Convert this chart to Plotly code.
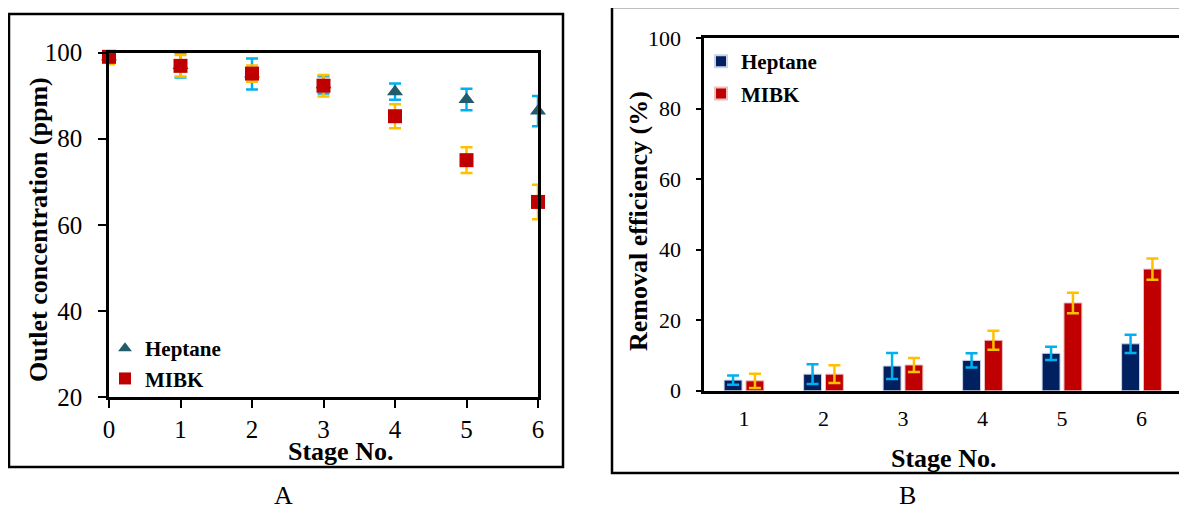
import plotly.graph_objects as go

# The page body adds an 8 px offset; the figure is sized so the page matches 1187x510.
OFF = 8
W, H = 1187 - OFF, 510 - OFF

# ---- Panel A data: outlet concentration (ppm) ----
stages_a = [0, 1, 2, 3, 4, 5, 6]
heptane_conc = [99.0, 97.0, 95.0, 92.5, 90.9, 89.1, 86.4]
heptane_conc_err = [1.0, 2.8, 3.6, 2.0, 1.9, 2.5, 3.5]
mibk_conc = [99.0, 96.9, 95.1, 92.3, 85.2, 75.0, 65.3]
mibk_conc_err = [1.7, 2.5, 1.9, 2.5, 2.8, 3.0, 4.0]
ticks_a_x = [0, 1, 2, 3, 4, 5, 6]
ticks_a_y = [20, 40, 60, 80, 100]

# ---- Panel B data: removal efficiency (%) ----
stages_b = [1, 2, 3, 4, 5, 6]
heptane_eff = [3.0, 4.7, 7.0, 8.6, 10.6, 13.3]
heptane_eff_err = [1.3, 2.8, 3.7, 2.0, 1.9, 2.6]
mibk_eff = [2.8, 4.7, 7.3, 14.3, 24.9, 34.5]
mibk_eff_err = [2.0, 2.5, 2.0, 2.7, 2.9, 3.0]
ticks_b_y = [0, 20, 40, 60, 80, 100]

SERIF = "Liberation Serif, Times New Roman, serif"
TEAL = "#225B6B"
NAVY = "#002060"
RED = "#C00000"
CYAN = "#00B0F0"
GOLD = "#FFC000"


def px_x(v):
    return (v - OFF) / W


def px_y(v):
    return 1 - (v - OFF) / H


fig = go.Figure()

# Panel A traces
fig.add_trace(go.Scatter(
    x=stages_a, y=heptane_conc, name="Heptane", mode="markers",
    marker=dict(symbol="triangle-up", size=14, color=TEAL),
    error_y=dict(type="data", array=heptane_conc_err, color=CYAN, thickness=2.5, width=6),
    xaxis="x", yaxis="y", cliponaxis=False, legend="legend", legendgroup="a1"))
fig.add_trace(go.Scatter(
    x=stages_a, y=mibk_conc, name="MIBK", mode="markers",
    marker=dict(symbol="square", size=14, color=RED),
    error_y=dict(type="data", array=mibk_conc_err, color=GOLD, thickness=2.5, width=6),
    xaxis="x", yaxis="y", cliponaxis=False, legend="legend", legendgroup="a2"))

# Panel B traces
fig.add_trace(go.Bar(
    x=stages_b, y=heptane_eff, name="Heptane", marker=dict(color=NAVY, line=dict(color="#C9D3E6", width=1)),
    error_y=dict(type="data", array=heptane_eff_err, color=CYAN, thickness=2.5, width=6),
    xaxis="x2", yaxis="y2", legend="legend2", legendgroup="b1"))
fig.add_trace(go.Bar(
    x=stages_b, y=mibk_eff, name="MIBK", marker=dict(color=RED, line=dict(color="#EBC0C0", width=1)),
    error_y=dict(type="data", array=mibk_eff_err, color=GOLD, thickness=2.5, width=6),
    xaxis="x2", yaxis="y2", legend="legend2", legendgroup="b2"))

axis_common = dict(showgrid=False, zeroline=False, showline=True, linecolor="black",
                   linewidth=2.5, mirror=True, tickcolor="black", tickwidth=2, automargin=False)


def ann(text, x, y, size=26, angle=0):
    return dict(text=text, x=px_x(x), y=px_y(y), xref="paper", yref="paper",
                xanchor="center", yanchor="middle", textangle=angle, showarrow=False,
                font=dict(size=size, family=SERIF, color="black"))


fig.update_layout(
    template="none",
    width=W, height=H,
    margin=dict(l=0, r=0, t=0, b=0, pad=0),
    paper_bgcolor="white", plot_bgcolor="white",
    font=dict(family=SERIF, color="black"),
    showlegend=True,
    barmode="group", bargap=0.45, bargroupgap=0.18,
    xaxis=dict(domain=[px_x(109), px_x(538)], range=[0, 6], tickvals=ticks_a_x,
               ticks="outside", ticklen=8, tickfont=dict(size=25, family=SERIF),
               ticklabelstandoff=0, anchor="y", **axis_common),
    yaxis=dict(domain=[px_y(397), px_y(52.5)], range=[20, 100], tickvals=ticks_a_y,
               ticks="outside", ticklen=8, tickfont=dict(size=25, family=SERIF),
               ticklabelstandoff=11, anchor="x", **axis_common),
    xaxis2=dict(domain=[px_x(704.25), px_x(1181.25)], range=[0.5, 6.5], tickvals=stages_b,
                ticks="", tickfont=dict(size=22, family=SERIF),
                ticklabelstandoff=6, anchor="y2", **axis_common),
    yaxis2=dict(domain=[px_y(390.7), px_y(38.2)], range=[0, 100], tickvals=ticks_b_y,
                ticks="outside", ticklen=6, tickfont=dict(size=22, family=SERIF),
                ticklabelstandoff=10, anchor="x2", **axis_common),
    legend=dict(x=px_x(105), y=px_y(328), xanchor="left", yanchor="top",
                bgcolor="rgba(0,0,0,0)", itemwidth=30, tracegroupgap=0,
                font=dict(size=21, family=SERIF, color="black", weight="bold"),
                itemsizing="constant"),
    legend2=dict(x=px_x(701), y=px_y(41), xanchor="left", yanchor="top",
                 bgcolor="rgba(0,0,0,0)", itemwidth=30, tracegroupgap=2,
                 font=dict(size=21, family=SERIF, color="black", weight="bold"),
                 itemsizing="constant"),
    shapes=[
        dict(type="rect", xref="paper", yref="paper", x0=px_x(9), x1=px_x(563),
             y0=px_y(467), y1=px_y(14), line=dict(color="black", width=2.5)),
        dict(type="rect", xref="paper", yref="paper", x0=px_x(612), x1=px_x(1200),
             y0=px_y(473), y1=px_y(7), line=dict(color="black", width=2.5)),
    ],
    annotations=[
        ann("<b>Outlet concentration (ppm)</b>", 38, 230, angle=-90),
        ann("<b>Stage No.</b>", 340, 451),
        ann("<b>Removal efficiency (%)</b>", 638, 221, angle=-90),
        ann("<b>Stage No.</b>", 943, 458),
        ann("A", 283, 495),
        ann("B", 907, 495),
    ],
)

fig.write_html("out.html")
